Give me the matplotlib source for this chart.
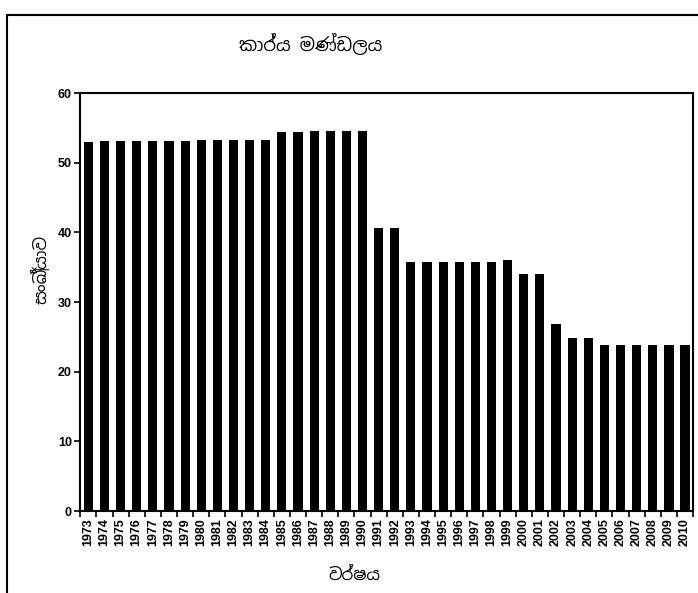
import matplotlib.pyplot as plt
from matplotlib import font_manager
from matplotlib.patches import Rectangle
import numpy as np

years = list(range(1973, 2011))
staff = [53.0, 53.1, 53.1, 53.1, 53.1, 53.1, 53.1, 53.2, 53.2, 53.3, 53.3, 53.3,
         54.4, 54.4, 54.5, 54.6, 54.6, 54.6,
         40.7, 40.7,
         35.7, 35.7, 35.7, 35.8, 35.8, 35.8, 36.0,
         34.0, 34.0,
         26.9,
         24.8, 24.9,
         23.8, 23.8, 23.8, 23.8, 23.8, 23.8]

title = "කාර්ය මණ්ඩලය"
ylabel = "සංඛ්‍යාව"
xlabel = "වර්ෂය"

plt.rcParams['font.family'] = ['Liberation Sans', 'DejaVu Sans']

# Sinhala font for the three Sinhala texts, if one is installed
sinhala = ['DejaVu Sans']
for f in font_manager.fontManager.ttflist:
    if 'Sinhala' in f.name:
        sinhala = [f.name, 'DejaVu Sans']
        break

fig = plt.figure(figsize=(6.98, 5.93), dpi=100)
ax = fig.add_axes([0.115, 0.138, 0.878, 0.705])

x = np.arange(len(years))
ax.bar(x, staff, width=0.57, color='black')

ax.set_xlim(-0.5, len(years) - 0.5)
ax.set_ylim(0, 60)
ax.set_yticks([0, 10, 20, 30, 40, 50, 60])
ax.set_yticklabels(['0', '10', '20', '30', '40', '50', '60'], fontsize=9, fontweight='bold')
ax.set_xticks(x)
ax.set_xticklabels([str(y) for y in years], rotation=90, fontsize=9, fontweight='bold')
ax.set_xticks(np.arange(len(years) + 1) - 0.5, minor=True)
ax.tick_params(axis='x', which='major', length=0, pad=5)
ax.tick_params(axis='x', which='minor', length=4, width=1.2, direction='out')
ax.tick_params(axis='y', length=4, width=1.2, direction='out', pad=2)
for s in ax.spines.values():
    s.set_linewidth(1.5)

fig.text(0.445, 0.925, title, ha='center', va='center', fontsize=13, family=sinhala)
fig.text(0.058, 0.545, ylabel, ha='center', va='center', rotation=90, fontsize=12, family=sinhala)
fig.text(0.508, 0.03, xlabel, ha='center', va='center', fontsize=12, family=sinhala)

# outer frame of the chart
fig.patches.append(Rectangle((0.01, -0.01), 1.0, 0.985, transform=fig.transFigure,
                             fill=False, edgecolor='black', linewidth=1.5))

fig.savefig('out.png', dpi=100)
